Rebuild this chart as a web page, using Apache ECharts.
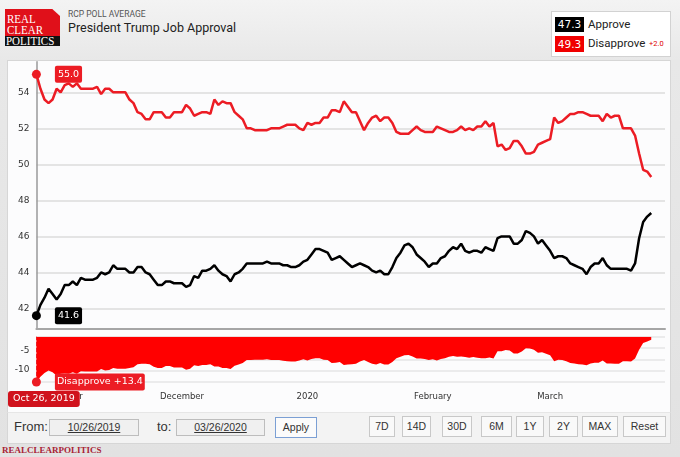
<!DOCTYPE html>
<html><head><meta charset="utf-8">
<script src="https://cdn.jsdelivr.net/npm/echarts@6/dist/echarts.min.js"></script>
<style>
html,body{margin:0;padding:0;}
body{width:680px;height:457px;position:relative;overflow:hidden;background:linear-gradient(to bottom,#f3f3f3 0px,#e8e8e8 60px,#e2e2e2 457px);font-family:Roboto,"Liberation Sans",sans-serif;}
.a{position:absolute;white-space:nowrap;}
#logoRed{left:5px;top:9px;width:55px;height:27px;background:#e0101a;clip-path:polygon(0 0,86% 0,100% 26%,100% 100%,0 100%);}
#logoBlk{left:5px;top:36px;width:55px;height:10px;background:#111;}
.lg{font-family:"Liberation Serif",serif;font-size:11px;color:#fff;transform:scaleY(1.2);transform-origin:left top;line-height:10px;height:10px;}
#sub{left:68px;top:9px;font-size:8.5px;line-height:10px;color:#555;}
#ttl{left:68px;top:20px;font-size:12.5px;line-height:15px;color:#222;}
#leg{left:551px;top:11px;width:118px;height:44px;background:#fff;border:1px solid #d2d2d2;}
.box{width:29px;height:15px;color:#fff;font-family:"DejaVu Sans",sans-serif;font-size:10.5px;line-height:15px;text-align:center;}
.lt{font-size:11.5px;line-height:14px;color:#222;}
#panel{left:7px;top:60px;width:662px;height:352px;background:#fcfcfd;border:1px solid #d6d6d6;border-bottom:none;}
#ctrl{left:7px;top:412px;width:662px;height:30px;background:#f3f3f3;border:1px solid #d6d6d6;border-top:1px solid #e6e6e6;}
.cl{font-family:"Liberation Sans",sans-serif;font-size:13px;line-height:16px;color:#333;}
.inp{height:15px;background:#f0f0f0;border:1px solid #bdbdbd;font-family:"Liberation Sans",sans-serif;font-size:10.5px;line-height:15px;color:#333;text-align:center;text-decoration:underline;}
.btn{top:416px;height:19px;background:#f9f9f9;border:1px solid #c8c8c8;font-family:"Liberation Sans",sans-serif;font-size:10.5px;line-height:19px;color:#333;text-align:center;}
#foot{left:2px;top:445px;font-family:"Liberation Serif",serif;font-weight:bold;font-size:9px;line-height:10px;color:#a82235;}
#chart{position:absolute;left:8px;top:0px;width:662px;height:457px;z-index:2;}
</style></head>
<body>
<div class="a" id="logoRed"></div>
<div class="a" id="logoBlk"></div>
<div class="a lg" style="left:7px;top:12.3px;">REAL</div>
<div class="a lg" style="left:7px;top:23.3px;">CLEAR</div>
<div class="a lg" style="left:6px;top:34.3px;">POLITICS</div>
<div class="a" id="sub">RCP POLL AVERAGE</div>
<div class="a" id="ttl">President Trump Job Approval</div>
<div class="a" id="leg"></div>
<div class="a box" style="left:555px;top:17px;background:#000;">47.3</div>
<div class="a lt" style="left:588px;top:17px;">Approve</div>
<div class="a box" style="left:555px;top:36px;height:16px;line-height:16px;background:#f00000;">49.3</div>
<div class="a lt" style="left:588px;top:36px;">Disapprove</div>
<div class="a" style="left:649px;top:39px;font-size:7.5px;line-height:9px;color:#e00000;">+2.0</div>
<div class="a" id="panel"></div>
<div class="a" id="ctrl"></div>
<div class="a cl" style="left:14px;top:419px;">From:</div>
<div class="a inp" style="left:49px;top:419px;width:88px;">10/26/2019</div>
<div class="a cl" style="left:157px;top:419px;">to:</div>
<div class="a inp" style="left:176px;top:419px;width:87px;">03/26/2020</div>
<div class="a btn" style="left:275px;top:417px;width:40px;border-color:#7b9fd4;background:#fbfbfb;">Apply</div>
<div class="a btn" style="left:369px;width:24px;">7D</div>
<div class="a btn" style="left:402px;width:27px;">14D</div>
<div class="a btn" style="left:442px;width:28px;">30D</div>
<div class="a btn" style="left:481px;width:29px;">6M</div>
<div class="a btn" style="left:516px;width:26px;">1Y</div>
<div class="a btn" style="left:549px;width:27px;">2Y</div>
<div class="a btn" style="left:582px;width:34px;">MAX</div>
<div class="a btn" style="left:623px;width:41px;">Reset</div>
<div class="a" id="foot">REALCLEARPOLITICS</div>
<div id="chart"></div>
<script>
// ---- data (daily RCP average, Oct 26 2019 -> Mar 26 2020) ----
const startDate = '2019-10-26';
const approve = [41.6,42.2,42.6,43.1,42.8,42.5,42.8,43.3,43.3,43.5,
43.3,43.7,43.6,43.6,43.6,43.7,44.0,43.9,44.0,44.4,
44.2,44.2,44.2,44.0,44.0,44.3,44.3,44.0,43.9,43.6,
43.3,43.3,43.5,43.5,43.4,43.4,43.4,43.2,43.3,43.8,
43.7,44.1,44.1,44.2,44.4,44.1,43.9,43.8,43.5,43.9,
44.0,44.2,44.5,44.5,44.5,44.5,44.5,44.6,44.5,44.5,
44.5,44.4,44.4,44.3,44.3,44.4,44.6,44.7,45.0,45.3,
45.3,45.2,45.1,44.7,44.8,44.9,44.7,44.5,44.3,44.4,
44.5,44.4,44.3,44.1,44.0,44.1,43.9,43.9,44.3,44.8,
45.1,45.5,45.6,45.4,45.0,44.8,44.6,44.3,44.5,44.5,
44.8,44.9,45.2,45.4,45.3,45.6,45.2,45.1,45.2,45.2,
45.1,45.4,45.3,45.2,45.9,46.0,46.0,46.0,45.6,45.6,
45.8,46.3,46.2,46.0,45.6,45.8,45.5,45.2,44.8,44.9,
44.9,44.8,44.5,44.4,44.3,44.2,43.9,44.3,44.5,44.5,
44.8,44.4,44.2,44.2,44.2,44.2,44.2,44.1,44.5,45.9,
46.8,47.1,47.3];
const disapprove = [55.0,54.2,53.6,53.4,53.6,54.2,54.0,54.4,54.5,54.3,
54.5,54.2,54.2,54.2,54.2,54.3,53.9,54.2,54.2,54.0,
54.0,54.0,54.0,53.6,53.4,52.9,52.8,52.5,52.5,52.9,
52.9,52.9,52.6,52.6,52.9,52.9,52.9,53.3,53.1,52.7,
52.8,52.9,52.9,52.8,53.6,53.3,53.5,53.4,53.4,52.9,
52.7,52.5,52.0,52.0,51.9,51.9,51.9,51.9,52.0,52.0,
52.0,52.1,52.2,52.2,52.2,52.0,51.9,52.3,52.2,52.3,
52.3,52.6,52.6,53.0,53.0,52.9,53.5,53.2,52.9,52.9,
52.4,51.9,52.3,52.6,52.7,52.4,52.6,52.6,52.3,51.8,
51.7,51.7,51.7,51.9,52.1,51.9,51.8,51.8,51.8,52.1,
52.0,51.9,51.8,51.8,51.9,52.1,51.9,52.0,51.9,52.1,
52.1,52.4,52.1,52.3,51.0,51.1,50.8,50.9,51.3,51.3,
51.0,50.6,50.6,50.7,51.1,51.2,51.3,51.4,52.6,52.3,
52.4,52.6,52.8,52.8,52.9,52.9,52.8,52.7,52.7,52.7,
52.4,52.8,52.6,52.7,52.7,52.0,52.0,52.0,51.6,50.6,
49.7,49.6,49.3];
const monthTicks = ['2019-11-01','2019-12-01','2020-01-01','2020-02-01','2020-03-01'];
const monthLabels = ['November','December','2020','February','March'];
const mainTicks = [42,44,46,48,50,52,54];
const spreadTicks = [-5,-10];
const spreadGrid = [-1.2,-4.25,-7.3,-10.35,-13.4];

// ---- derived: x is days since startDate ----
const DAY = 86400000;
const t0 = Date.parse(startDate);
const days = approve.map((_, i) => i);
const spread = approve.map((a, i) => +(a - disapprove[i]).toFixed(1));
const monthDays = monthTicks.map(s => Math.round((Date.parse(s) - t0) / DAY));
const xMax = 155.4;
const FONT = 'DejaVu Sans';
const RED = '#ec1c24';
const fmtDate = d => new Date(t0 + Math.round(d) * DAY).toLocaleDateString('en-US', {month: 'short', day: 'numeric', year: 'numeric', timeZone: 'UTC'});

const chart = echarts.init(document.getElementById('chart'), null, {renderer: 'canvas'});
const tagLabel = (bg) => ({
  show: true, position: 'right', distance: 14, color: '#fff', backgroundColor: bg,
  fontFamily: FONT, fontSize: 9.5, padding: [4, 3, 3, 3], borderRadius: 2
});
chart.setOption({
  animation: false,
  grid: [
    {left: 28.4, right: 5, top: 61.7, height: 266.6, containLabel: false, outerBoundsMode: 'none'},
    {left: 28.4, right: 5, top: 336.7, height: 45.3, containLabel: false, outerBoundsMode: 'none'}
  ],
  xAxis: [
    {type: 'value', gridIndex: 0, min: 0, max: xMax,
     axisLine: {show: true, onZero: false, lineStyle: {color: '#a6a6a6', width: 2}},
     axisTick: {show: false}, axisLabel: {show: false}, splitLine: {show: false}},
    {type: 'value', gridIndex: 1, min: 0, max: xMax,
     axisLine: {show: false, onZero: false}, axisTick: {show: false, customValues: monthDays}, splitLine: {show: false},
     axisLabel: {customValues: monthDays, margin: 10, color: '#333', fontFamily: FONT, fontSize: 8.5,
       formatter: v => monthLabels[monthDays.indexOf(v)] || ''},
     axisPointer: {show: true, status: 'show', value: days[0], type: 'line', triggerTooltip: false,
       lineStyle: {color: RED, width: 1},
       label: {show: true, margin: 9, color: '#fff', backgroundColor: '#d0121c', fontFamily: FONT, fontSize: 9.5,
         padding: [3, 5, 3, 5], borderRadius: 3,
         formatter: p => fmtDate(p.value)}}}
  ],
  yAxis: [
    {type: 'value', gridIndex: 0, min: 40.9, max: 55.7,
     axisLine: {show: true, lineStyle: {color: '#9a9a9a', width: 1.5}},
     axisTick: {show: false, customValues: mainTicks},
     axisLabel: {customValues: mainTicks, margin: 7, color: '#333', fontFamily: FONT, fontSize: 9},
     splitLine: {show: true, lineStyle: {color: '#e4e4e4', width: 2}}},
    {type: 'value', gridIndex: 1, min: -13.4, max: -1.2,
     axisLine: {show: false},
     axisTick: {show: false, customValues: spreadGrid},
     axisLabel: {customValues: spreadTicks, margin: 7, color: '#333', fontFamily: FONT, fontSize: 9},
     splitLine: {show: true, lineStyle: {color: '#e6e6e6', width: 1.5}}}
  ],
  series: [
    {name: 'Spread', type: 'line', xAxisIndex: 1, yAxisIndex: 1, symbol: 'none',
     data: spread.map((v, i) => [days[i], v]),
     lineStyle: {width: 0, color: '#ff0000'}, itemStyle: {color: '#ff0000'},
     areaStyle: {origin: 'end', color: '#ff0000', opacity: 1},
     markPoint: {symbol: 'circle', symbolSize: 9, itemStyle: {color: RED},
       label: Object.assign(tagLabel(RED), {padding: [4, 2, 3, 2], formatter: p => 'Disapprove +' + Math.abs(p.value).toFixed(1)}),
       data: [{coord: [days[0], spread[0]], value: spread[0]}]}},
    {name: 'Disapprove', type: 'line', xAxisIndex: 0, yAxisIndex: 0, symbol: 'none',
     data: disapprove.map((v, i) => [days[i], v]),
     lineStyle: {width: 2.5, color: RED}, itemStyle: {color: RED},
     markPoint: {symbol: 'circle', symbolSize: 9, itemStyle: {color: RED},
       label: Object.assign(tagLabel(RED), {formatter: p => Number(p.value).toFixed(1)}),
       data: [{coord: [days[0], disapprove[0]], value: disapprove[0]}]}},
    {name: 'Approve', type: 'line', xAxisIndex: 0, yAxisIndex: 0, symbol: 'none',
     data: approve.map((v, i) => [days[i], v]),
     lineStyle: {width: 2.5, color: '#000'}, itemStyle: {color: '#000'},
     markPoint: {symbol: 'circle', symbolSize: 9, itemStyle: {color: '#000'},
       label: Object.assign(tagLabel('#000'), {formatter: p => Number(p.value).toFixed(1)}),
       data: [{coord: [days[0], approve[0]], value: approve[0]}]}}
  ]
});
</script>
</body></html>
